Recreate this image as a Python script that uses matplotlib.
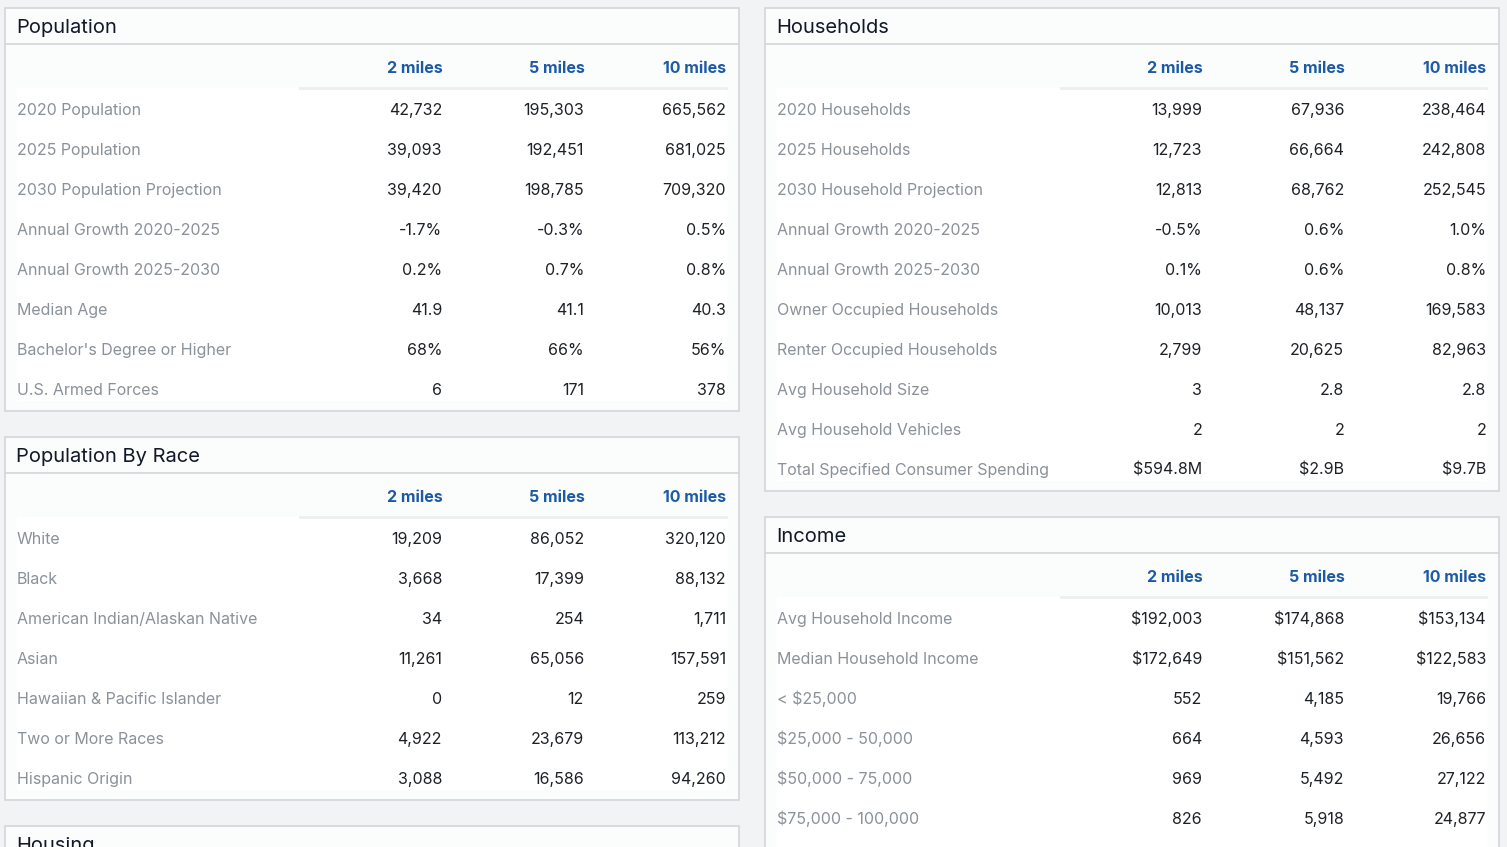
import matplotlib.pyplot as plt
from matplotlib.patches import Rectangle

plt.rcParams['font.family'] = ['Inter', 'DejaVu Sans']

columns = ["2 miles", "5 miles", "10 miles"]

pop_labels = ["2020 Population", "2025 Population", "2030 Population Projection",
              "Annual Growth 2020-2025", "Annual Growth 2025-2030", "Median Age",
              "Bachelor's Degree or Higher", "U.S. Armed Forces"]
pop_2mi = ["42,732", "39,093", "39,420", "-1.7%", "0.2%", "41.9", "68%", "6"]
pop_5mi = ["195,303", "192,451", "198,785", "-0.3%", "0.7%", "41.1", "66%", "171"]
pop_10mi = ["665,562", "681,025", "709,320", "0.5%", "0.8%", "40.3", "56%", "378"]

race_labels = ["White", "Black", "American Indian/Alaskan Native", "Asian",
               "Hawaiian & Pacific Islander", "Two or More Races", "Hispanic Origin"]
race_2mi = ["19,209", "3,668", "34", "11,261", "0", "4,922", "3,088"]
race_5mi = ["86,052", "17,399", "254", "65,056", "12", "23,679", "16,586"]
race_10mi = ["320,120", "88,132", "1,711", "157,591", "259", "113,212", "94,260"]

hh_labels = ["2020 Households", "2025 Households", "2030 Household Projection",
             "Annual Growth 2020-2025", "Annual Growth 2025-2030",
             "Owner Occupied Households", "Renter Occupied Households",
             "Avg Household Size", "Avg Household Vehicles",
             "Total Specified Consumer Spending"]
hh_2mi = ["13,999", "12,723", "12,813", "-0.5%", "0.1%", "10,013", "2,799", "3", "2", "$594.8M"]
hh_5mi = ["67,936", "66,664", "68,762", "0.6%", "0.6%", "48,137", "20,625", "2.8", "2", "$2.9B"]
hh_10mi = ["238,464", "242,808", "252,545", "1.0%", "0.8%", "169,583", "82,963", "2.8", "2", "$9.7B"]

inc_labels = ["Avg Household Income", "Median Household Income", "< $25,000",
              "$25,000 - 50,000", "$50,000 - 75,000", "$75,000 - 100,000"]
inc_2mi = ["$192,003", "$172,649", "552", "664", "969", "826"]
inc_5mi = ["$174,868", "$151,562", "4,185", "4,593", "5,492", "5,918"]
inc_10mi = ["$153,134", "$122,583", "19,766", "26,656", "27,122", "24,877"]

BG = "#f2f3f5"
BORDER = "#d3d6da"
LABEL = "#8b9199"
VALUE = "#1d2126"
HEAD = "#1c5aa6"
TITLE = "#111827"

fig = plt.figure(figsize=(15.07, 8.47), dpi=100, facecolor=BG)
ax = fig.add_axes([0, 0, 1, 1])
ax.set_xlim(0, 1507)
ax.set_ylim(847, 0)
ax.axis("off")


def panel(x0, x1, y0, title, labels, cols, sep_x, bottom=None):
    n = len(labels)
    y1 = bottom if bottom is not None else y0 + 101 + 40 * (n - 1) + 22
    ax.add_patch(Rectangle((x0, y0), x1 - x0, y1 - y0, facecolor="#fbfcfc",
                           edgecolor=BORDER, lw=1.2, zorder=1))
    ax.plot([x0, x1], [y0 + 36, y0 + 36], color=BORDER, lw=1.2, zorder=2)
    ax.text(x0 + 11.5, y0 + 25, title, fontsize=14.5, color=TITLE, va="baseline", zorder=3)
    if not labels:
        return
    col_x = [x0 + 437, x0 + 579, x0 + 721]
    # rows area
    ax.add_patch(Rectangle((x0 + 12, y0 + 80), x1 - x0 - 24, y1 - y0 - 90,
                           facecolor="white", edgecolor="none", zorder=1.5))
    ax.plot([sep_x, col_x[-1]], [y0 + 80, y0 + 80], color="#eceef0", lw=2, zorder=2)
    for cx, name in zip(col_x, columns):
        ax.text(cx + 0.5, y0 + 65, name, fontsize=11.5, fontweight="bold", color=HEAD,
                ha="right", va="baseline", zorder=3)
    for i, lab in enumerate(labels):
        y = y0 + 107 + 40 * i
        ax.text(x0 + 12, y, lab, fontsize=11.5, color=LABEL, va="baseline", zorder=3)
        for cx, vals in zip(col_x, cols):
            ax.text(cx, y, vals[i], fontsize=11.5, color=VALUE, ha="right",
                    va="baseline", zorder=3)


panel(5, 739, 8, "Population", pop_labels, [pop_2mi, pop_5mi, pop_10mi], 300)
panel(5, 739, 437, "Population By Race", race_labels, [race_2mi, race_5mi, race_10mi], 300)
panel(5, 739, 826, "Housing", [], [], 300, bottom=900)
panel(765, 1499, 8, "Households", hh_labels, [hh_2mi, hh_5mi, hh_10mi], 1061)
panel(765, 1499, 517, "Income", inc_labels, [inc_2mi, inc_5mi, inc_10mi], 1061, bottom=900)

fig.savefig("out.png", dpi=100, facecolor=BG)
